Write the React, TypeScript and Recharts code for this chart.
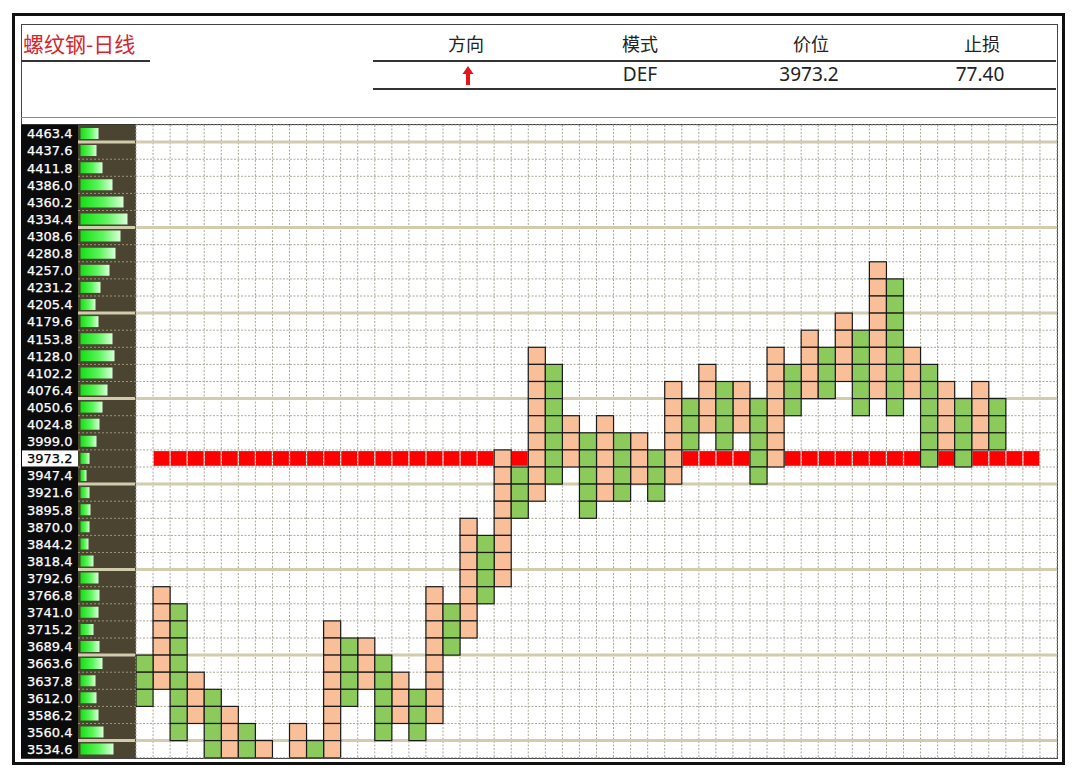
import React from 'react';
import {
  ComposedChart,
  Scatter,
  XAxis,
  YAxis,
  CartesianGrid,
  ReferenceLine,
  BarChart,
  Bar,
} from 'recharts';

// ---------- DATA ----------
const priceLevels = [
  4463.4, 4437.6, 4411.8, 4386.0, 4360.2, 4334.4, 4308.6, 4282.8, 4257.0, 4231.2,
  4205.4, 4179.6, 4153.8, 4128.0, 4102.2, 4076.4, 4050.6, 4024.8, 3999.0, 3973.2,
  3947.4, 3921.6, 3895.8, 3870.0, 3844.2, 3818.4, 3792.6, 3766.8, 3741.0, 3715.2,
  3689.4, 3663.6, 3637.8, 3612.0, 3586.2, 3560.4, 3534.6,
];
const priceLabels = [
  '4463.4', '4437.6', '4411.8', '4386.0', '4360.2', '4334.4', '4308.6', '4280.8', '4257.0', '4231.2',
  '4205.4', '4179.6', '4153.8', '4128.0', '4102.2', '4076.4', '4050.6', '4024.8', '3999.0', '3973.2',
  '3947.4', '3921.6', '3895.8', '3870.0', '3844.2', '3818.4', '3792.6', '3766.8', '3741.0', '3715.2',
  '3689.4', '3663.6', '3637.8', '3612.0', '3586.2', '3560.4', '3534.6',
];
// price-volume histogram per level (top to bottom)
const histValues = [
  18, 16, 22, 32, 43, 47, 40, 35, 29, 20,
  15, 18, 32, 34, 32, 27, 22, 19, 16, 9,
  6, 9, 10, 9, 8, 13, 18, 19, 18, 13,
  19, 22, 15, 16, 18, 23, 33,
];
// point & figure columns: X = rising (orange), O = falling (green)
const colTypes = [
  'O', 'X', 'O', 'X', 'O', 'X', 'O', 'X', 'O', 'X',
  'O', 'X', 'O', 'X', 'O', 'X', 'O', 'X', 'O', 'X',
  'O', 'X', 'O', 'X', 'O', 'X', 'O', 'X', 'O', 'X',
  'O', 'X', 'O', 'X', 'O', 'X', 'O', 'X', 'O', 'X',
  'O', 'X', 'O', 'X', 'O', 'X', 'O', 'X', 'O', 'X',
  'O',
];
const colTops: (number | null)[] = [
  3663.6, 3766.8, 3741.0, 3637.8, 3612.0, 3586.2, 3560.4, 3534.6, null, 3560.4,
  3534.6, 3715.2, 3689.4, 3689.4, 3663.6, 3637.8, 3612.0, 3766.8, 3741.0, 3870.0,
  3844.2, 3973.2, 3947.4, 4128.0, 4102.2, 4024.8, 3999.0, 4024.8, 3999.0, 3999.0,
  3973.2, 4076.4, 4050.6, 4102.2, 4076.4, 4076.4, 4050.6, 4128.0, 4102.2, 4153.8,
  4128.0, 4179.6, 4153.8, 4257.0, 4231.2, 4128.0, 4102.2, 4076.4, 4050.6, 4076.4,
  4050.6,
];
const colBottoms: (number | null)[] = [
  3612.0, 3637.8, 3560.4, 3586.2, 3534.6, 3534.6, 3534.6, 3534.6, null, 3534.6,
  3534.6, 3534.6, 3612.0, 3637.8, 3560.4, 3586.2, 3560.4, 3586.2, 3689.4, 3715.2,
  3766.8, 3792.6, 3895.8, 3921.6, 3947.4, 3973.2, 3895.8, 3921.6, 3921.6, 3947.4,
  3921.6, 3947.4, 3999.0, 4024.8, 3999.0, 4024.8, 3947.4, 3973.2, 4050.6, 4076.4,
  4076.4, 4102.2, 4050.6, 4076.4, 4050.6, 4076.4, 3973.2, 3999.0, 3973.2, 3999.0,
  3999.0,
];
const currentPrice = 3973.2;
const stopLineStartCol = 1;
const stopLineEndCol = 52;
const totalCols = 54;

const headerNames = ['方向', '模式', '价位', '止损'];
const headerValues = ['', 'DEF', '3973.2', '77.40'];
const titleText = '螺纹钢-日线';

// ---------- LAYOUT / STYLE ----------
const W = 1080;
const H = 775;
const PLOT_LEFT = 136;
const PLOT_RIGHT = 1057;
const PLOT_TOP = 125;
const PLOT_BOTTOM = 757.7;
const CELL_W = (PLOT_RIGHT - PLOT_LEFT) / totalCols;
const CELL_H = (PLOT_BOTTOM - PLOT_TOP) / priceLevels.length;
const STEP = priceLevels[0] - priceLevels[1];
const yDomain: [number, number] = [
  priceLevels[priceLevels.length - 1] - STEP / 2,
  priceLevels[0] + STEP / 2,
];
const rowBoundaries = priceLevels.slice(1).map((p, i) => (p + priceLevels[i]) / 2);
const thickBoundaries = rowBoundaries.filter((_, i) => i % 5 === 0);
const colBoundaries = Array.from({ length: totalCols - 1 }, (_, i) => i + 0.5);

const X_FILL = '#f8bf98';
const O_FILL = '#8cca5c';
const BEIGE = '#d2ccaf';

// ---------- DERIVED TABLES ----------
const xBoxes: { col: number; price: number }[] = [];
const oBoxes: { col: number; price: number }[] = [];
colTypes.forEach((t, c) => {
  const top = colTops[c];
  const bot = colBottoms[c];
  if (top == null || bot == null) return;
  priceLevels.forEach((p) => {
    if (p <= top + 0.01 && p >= bot - 0.01) {
      (t === 'X' ? xBoxes : oBoxes).push({ col: c, price: p });
    }
  });
});
const stopCells: { col: number; price: number }[] = [];
for (let c = stopLineStartCol; c <= stopLineEndCol; c++) stopCells.push({ col: c, price: currentPrice });

const histData = priceLevels.map((p, i) => ({ price: p, vol: histValues[i] }));

const makeBox = (fill: string) => (props: any) => {
  const { cx, cy } = props;
  if (cx == null || cy == null) return <g />;
  return (
    <rect
      x={cx - CELL_W / 2}
      y={cy - CELL_H / 2}
      width={CELL_W}
      height={CELL_H}
      fill={fill}
      stroke="#1a1a1a"
      strokeWidth={1.2}
    />
  );
};
const redShape = (props: any) => {
  const { cx, cy } = props;
  if (cx == null || cy == null) return <g />;
  return (
    <rect
      x={cx - CELL_W / 2 + 0.6}
      y={cy - CELL_H / 2 + 1.2}
      width={CELL_W - 1.2}
      height={CELL_H - 2.4}
      fill="#ff0000"
    />
  );
};

const LabelTick = (props: any) => {
  const { y, payload } = props;
  const idx = priceLevels.findIndex((p) => Math.abs(p - payload.value) < 0.01);
  const label = idx >= 0 ? priceLabels[idx] : '';
  const isCurrent = Math.abs(payload.value - currentPrice) < 0.01;
  return (
    <g>
      {isCurrent && (
        <rect x={22} y={y - CELL_H / 2 + 0.5} width={56} height={CELL_H - 1} fill="#ffffff" />
      )}
      <text
        x={27}
        y={y + 4.8}
        fill={isCurrent ? '#000000' : '#ffffff'}
        fontFamily="DejaVu Sans"
        fontSize={13}
        stroke={isCurrent ? '#000000' : '#ffffff'}
        strokeWidth={0.25}
      >
        {label}
      </text>
    </g>
  );
};

const abs = (style: React.CSSProperties): React.CSSProperties => ({ position: 'absolute', ...style });
const hLine = (x1: number, x2: number, y: number, h: number, color: string) => (
  <div style={abs({ left: x1, top: y - h / 2, width: x2 - x1, height: h, background: color })} />
);

const headerCenters = [466, 640, 811, 982];
const valueCenters = [468, 640, 809, 980];

export default function App() {
  return (
    <div style={abs({ left: 0, top: 0, width: W, height: H, background: '#ffffff', overflow: 'hidden' })}>
      <style>{`body{margin:0;background:#fff;}`}</style>
      {/* outer frame */}
      <div style={abs({ left: 12, top: 13, width: 1053, height: 752, border: '3px solid #111', boxSizing: 'border-box' })} />
      {/* inner frame */}
      <div style={abs({ left: 20.5, top: 23.5, width: 1037, height: 735.5, border: '1.5px solid #444', boxSizing: 'border-box' })} />

      {/* title */}
      <div
        style={abs({
          left: 23,
          top: 31,
          fontFamily: '"Noto Sans CJK SC"',
          fontSize: 21,
          lineHeight: '24px',
          color: '#d4262c',
          whiteSpace: 'nowrap',
        })}
      >
        {titleText}
      </div>
      {hLine(21, 150, 60.5, 2, '#333')}
      {hLine(373, 1056, 60.5, 2, '#333')}
      {hLine(373, 1056, 89, 2, '#333')}
      {hLine(21, 1056, 117.5, 1, '#8a8a8a')}
      {hLine(21, 1057, 124.3, 1.6, '#333')}

      {headerNames.map((n, i) => (
        <div
          key={n}
          style={abs({
            left: headerCenters[i] - 60,
            top: 31,
            width: 120,
            textAlign: 'center',
            fontFamily: '"Noto Sans CJK SC"',
            fontSize: 18,
            lineHeight: '24px',
            color: '#222',
          })}
        >
          {n}
        </div>
      ))}
      {headerValues.map((v, i) =>
        v ? (
          <div
            key={i}
            style={abs({
              left: valueCenters[i] - 60,
              top: 61,
              width: 120,
              textAlign: 'center',
              fontFamily: '"Noto Sans"',
              fontSize: 19,
              lineHeight: '26px',
              color: '#222',
            })}
          >
            {v}
          </div>
        ) : null
      )}
      {/* direction arrow (up) */}
      <svg style={abs({ left: valueCenters[0] - 8, top: 64, width: 16, height: 24 })} width={16} height={24}>
        <path d="M8 2 L13.5 10 L10 10 L10 21 L6 21 L6 10 L2.5 10 Z" fill="#e8141c" />
      </svg>

      {/* left label column and histogram background */}
      <div style={abs({ left: 21, top: PLOT_TOP, width: 57, height: PLOT_BOTTOM - PLOT_TOP, background: '#0b0b0b' })} />
      <div style={abs({ left: 78, top: PLOT_TOP, width: 58, height: PLOT_BOTTOM - PLOT_TOP, background: '#4a4431' })} />

      {/* histogram chart */}
      <div style={abs({ left: 0, top: 0 })}>
        <BarChart
          layout="vertical"
          width={136}
          height={H}
          data={histData}
          margin={{ top: PLOT_TOP, bottom: H - PLOT_BOTTOM, left: 21, right: 1 }}
        >
          <defs>
            <linearGradient id="histGrad" x1="0" y1="0" x2="1" y2="0">
              <stop offset="0%" stopColor="#12e012" />
              <stop offset="55%" stopColor="#5cf55c" />
              <stop offset="100%" stopColor="#d8ffd8" />
            </linearGradient>
          </defs>
          <XAxis type="number" domain={[-2.5, 54.5]} hide allowDataOverflow />
          <YAxis
            type="number"
            dataKey="price"
            domain={yDomain}
            ticks={priceLevels}
            interval={0}
            width={57}
            axisLine={false}
            tickLine={false}
            tick={<LabelTick />}
            reversed
            allowDataOverflow
          />
          {rowBoundaries.map((b) => (
            <ReferenceLine key={'h' + b} y={b} stroke="#9a9478" strokeWidth={1} strokeDasharray="2 2" />
          ))}
          {thickBoundaries.map((b) => (
            <ReferenceLine key={'t' + b} y={b} stroke={BEIGE} strokeWidth={3} />
          ))}
          <Bar dataKey="vol" barSize={11} fill="url(#histGrad)" isAnimationActive={false} />
        </BarChart>
      </div>

      {/* point & figure chart */}
      <div style={abs({ left: 0, top: 0 })}>
        <ComposedChart
          width={W}
          height={H}
          margin={{ top: PLOT_TOP, right: W - PLOT_RIGHT, bottom: H - PLOT_BOTTOM, left: PLOT_LEFT }}
        >
          <XAxis type="number" dataKey="col" domain={[-0.5, totalCols - 0.5]} ticks={colBoundaries} interval={0} hide allowDataOverflow />
          <YAxis type="number" dataKey="price" domain={yDomain} ticks={rowBoundaries} interval={0} hide allowDataOverflow />
          <CartesianGrid stroke="#aaa898" strokeWidth={1} strokeDasharray="2 1.5" />
          {thickBoundaries.map((b) => (
            <ReferenceLine key={'m' + b} y={b} stroke={BEIGE} strokeWidth={3} />
          ))}
          <Scatter data={stopCells} shape={redShape} isAnimationActive={false} />
          <Scatter data={xBoxes} shape={makeBox(X_FILL)} isAnimationActive={false} />
          <Scatter data={oBoxes} shape={makeBox(O_FILL)} isAnimationActive={false} />
        </ComposedChart>
      </div>
    </div>
  );
}
